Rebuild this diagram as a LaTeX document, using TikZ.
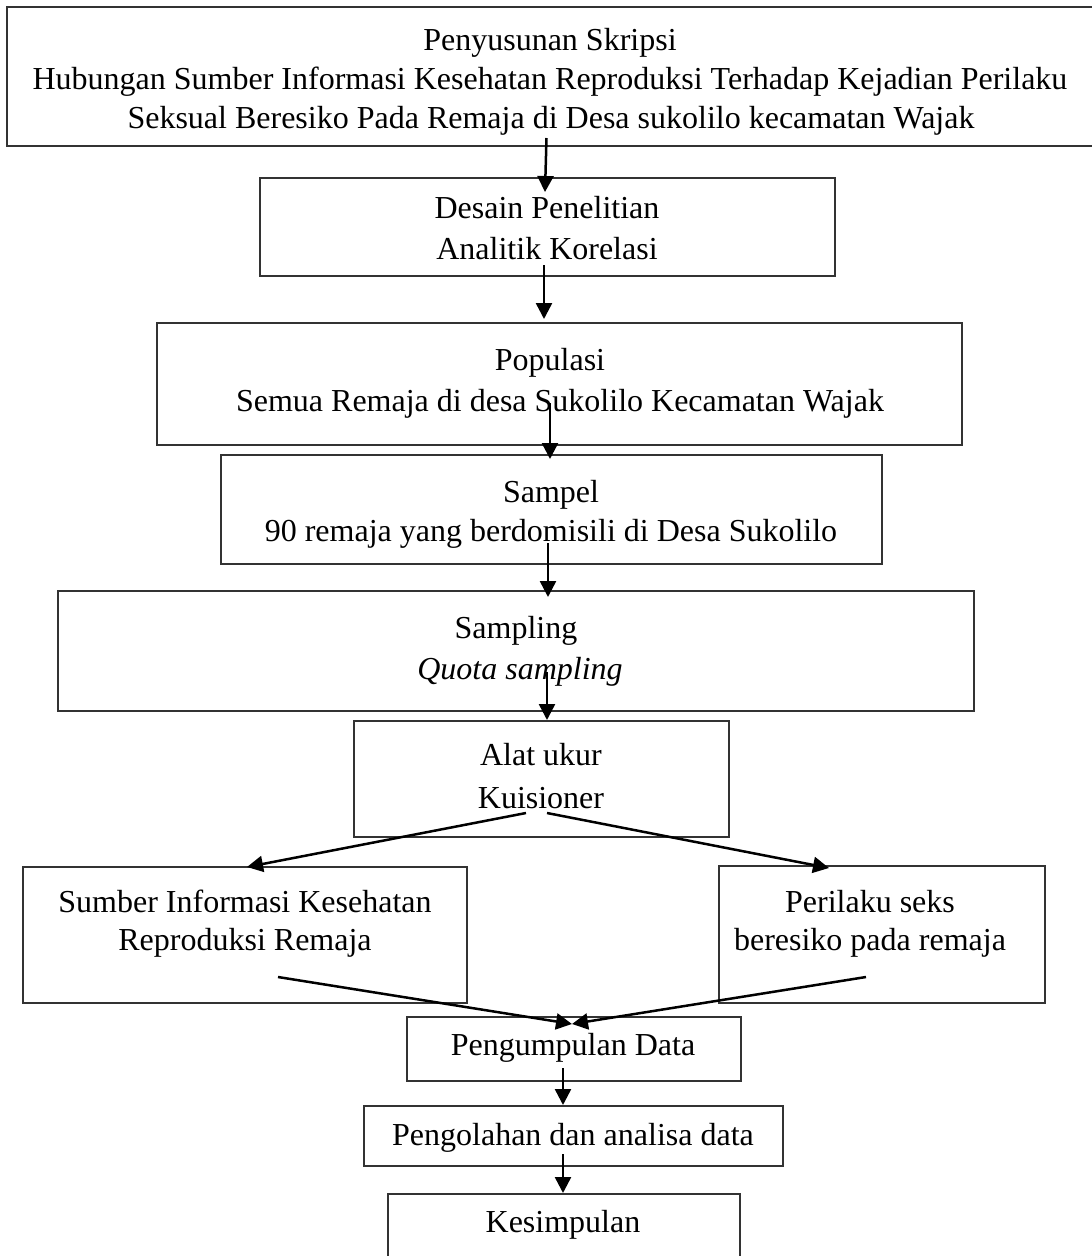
\documentclass[tikz,border=0pt]{standalone}
\usepackage{fontspec}
\setmainfont{Liberation Serif}
\usetikzlibrary{arrows.meta}
\begin{document}
\begin{tikzpicture}[x=1pt,y=-1pt,
  box/.style={draw=black!80,line width=1.1pt,inner sep=0pt,outer sep=0pt},
  txt/.style={anchor=base,inner sep=0pt,font=\fontsize{32}{38}\selectfont},
  arr/.style={line width=2.5pt,-{Triangle[length=16pt,width=16pt]}}]
\useasboundingbox (0,0) rectangle (1092,1256);
% boxes
\node[box,minimum width=1090pt,minimum height=139pt] (b1) at (552,76.5) {};
\node[box,minimum width=575pt,minimum height=98pt] (b2) at (547.5,227) {};
\node[box,minimum width=805pt,minimum height=122pt] (b3) at (559.5,384) {};
\node[box,minimum width=661pt,minimum height=109pt] (b4) at (551.5,509.5) {};
\node[box,minimum width=916pt,minimum height=120pt] (b5) at (516,651) {};
\node[box,minimum width=375pt,minimum height=116pt] (b6) at (541.5,779) {};
\node[box,minimum width=444pt,minimum height=136pt] (b7) at (245,935) {};
\node[box,minimum width=326pt,minimum height=137pt] (b8) at (882,934.5) {};
\node[box,minimum width=334pt,minimum height=64pt] (b9) at (574,1049) {};
\node[box,minimum width=419pt,minimum height=60pt] (b10) at (573.5,1136) {};
\node[box,minimum width=352pt,minimum height=70pt] (b11) at (564,1229) {};
% texts
\node[txt] (t1a) at (550,50) {Penyusunan Skripsi};
\node[txt] (t1b) at (550,89) {Hubungan Sumber Informasi Kesehatan Reproduksi Terhadap Kejadian Perilaku};
\node[txt] (t1c) at (551,128) {Seksual Beresiko Pada Remaja di Desa sukolilo kecamatan Wajak};
\node[txt] (t2a) at (547,218) {Desain Penelitian};
\node[txt] (t2b) at (547,259) {Analitik Korelasi};
\node[txt] (t3a) at (550,370) {Populasi};
\node[txt] (t3b) at (560,411) {Semua Remaja di desa Sukolilo Kecamatan Wajak};
\node[txt] (t4a) at (551,502) {Sampel};
\node[txt] (t4b) at (551,541) {90 remaja yang berdomisili di Desa Sukolilo};
\node[txt] (t5a) at (516,638) {Sampling};
\node[txt] (t5b) at (520,679) {\itshape Quota sampling};
\node[txt] (t6a) at (541,765) {Alat ukur};
\node[txt] (t6b) at (541,808) {Kuisioner};
\node[txt] (t7a) at (245,912) {Sumber Informasi Kesehatan};
\node[txt] (t7b) at (245,950) {Reproduksi Remaja};
\node[txt] (t8a) at (870,912) {Perilaku seks};
\node[txt] (t8b) at (870,950) {beresiko pada remaja};
\node[txt] (t9) at (573,1055) {Pengumpulan Data};
\node[txt] (t10) at (573,1145) {Pengolahan dan analisa data};
\node[txt] (t11) at (563,1232) {Kesimpulan};
% connectors
\draw[arr] ([xshift=-5.5pt,yshift=8pt]b1.south) -- ([xshift=-2.5pt,yshift=-14pt]b2.north);
\draw[arr] ([xshift=-3.5pt,yshift=11pt]b2.south) -- ([xshift=-15.5pt,yshift=4pt]b3.north);
\draw[arr] ([xshift=-9.5pt,yshift=42pt]b3.south) -- ([xshift=-1.5pt,yshift=-4pt]b4.north);
\draw[arr] ([xshift=-3.5pt,yshift=21pt]b4.south) -- ([xshift=32pt,yshift=-6pt]b5.north);
\draw[arr] ([xshift=31pt,yshift=39pt]b5.south) -- ([xshift=5.5pt,yshift=1pt]b6.north);
\draw[arr] ([xshift=-15.5pt,yshift=24pt]b6.south) -- ([xshift=2pt]b7.north);
\draw[arr] ([xshift=5.5pt,yshift=24pt]b6.south) -- ([xshift=-53pt,yshift=-2pt]b8.north);
\draw[arr] ([xshift=33pt,yshift=26pt]b7.south) -- ([xshift=-2pt,yshift=-7pt]b9.north);
\draw[arr] ([xshift=-16pt,yshift=26pt]b8.south) -- ([xshift=-2pt,yshift=-7pt]b9.north);
\draw[arr] ([xshift=-11pt,yshift=13pt]b9.south) -- ([xshift=-10.5pt,yshift=1pt]b10.north);
\draw[arr] ([xshift=-10.5pt,yshift=12pt]b10.south) -- ([xshift=-1pt,yshift=1pt]b11.north);
\end{tikzpicture}
\end{document}
